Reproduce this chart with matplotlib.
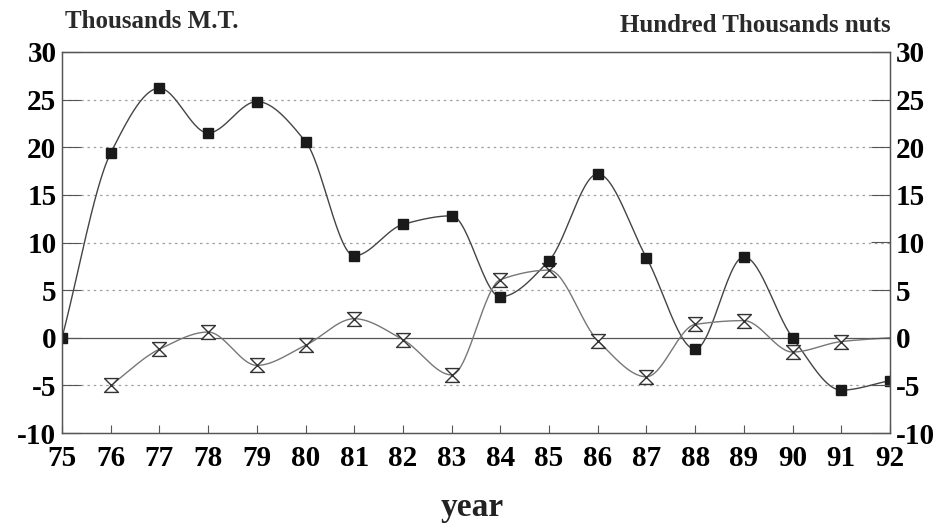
import numpy as np
import matplotlib.pyplot as plt
from matplotlib.path import Path

years = list(range(75, 93))
# thousands M.T. (filled squares)
mt = [0, 19.4, 26.2, 21.5, 24.8, 20.6, 8.6, 11.9, 12.8, 4.3, 8.1, 17.2, 8.4, -1.2, 8.5, 0, -5.5, -4.5]
# hundred thousands nuts (hourglass), 76..92
nut_years = list(range(76, 93))
nuts = [-5.0, -1.2, 0.6, -2.9, -0.8, 2.0, -0.2, -3.9, 6.1, 7.1, -0.3, -4.1, 1.4, 1.8, -1.5, -0.4, 0.0]

yticks = [-10, -5, 0, 5, 10, 15, 20, 25, 30]


def smooth(x, y, n=30):
    # monotone cubic (Fritsch-Carlson) through the points
    x = np.asarray(x, float)
    y = np.asarray(y, float)
    h = np.diff(x)
    d = np.diff(y) / h
    m = np.zeros(len(x))
    m[0] = d[0]
    m[-1] = d[-1]
    for i in range(1, len(x) - 1):
        if d[i - 1] * d[i] > 0:
            w1 = 2 * h[i] + h[i - 1]
            w2 = h[i] + 2 * h[i - 1]
            m[i] = (w1 + w2) / (w1 / d[i - 1] + w2 / d[i])
    xs, ys = [], []
    for i in range(len(x) - 1):
        t = np.linspace(0, 1, n, endpoint=False)
        h00 = 2 * t ** 3 - 3 * t ** 2 + 1
        h10 = t ** 3 - 2 * t ** 2 + t
        h01 = -2 * t ** 3 + 3 * t ** 2
        h11 = t ** 3 - t ** 2
        xs.append(x[i] + t * h[i])
        ys.append(h00 * y[i] + h10 * h[i] * m[i] + h01 * y[i + 1] + h11 * h[i] * m[i + 1])
    xs.append([x[-1]])
    ys.append([y[-1]])
    return np.concatenate(xs), np.concatenate(ys)


hourglass = Path([(-1, 1), (1, 1), (-1, -1), (1, -1), (-1, 1)],
                 [Path.MOVETO, Path.LINETO, Path.LINETO, Path.LINETO, Path.CLOSEPOLY])

plt.rcParams['font.family'] = 'Liberation Serif'
plt.rcParams['font.weight'] = 'bold'

fig = plt.figure(figsize=(9.39, 5.24), dpi=100)
ax = fig.add_axes([62 / 939, 1 - 433 / 524, 828 / 939, 381 / 524])

for v in [-5, 5, 10, 15, 20, 25]:
    ax.axhline(v, color='#a0a0a0', lw=0.9, ls=(0, (2, 3)), zorder=0)
ax.axhline(0, color='#555555', lw=0.9, zorder=1)

sx, sy = smooth(years, mt)
ax.plot(sx, sy, color='#444444', lw=1.0, zorder=2)
ax.plot(years, mt, ls='none', marker='s', ms=7, color='#1a1a1a', zorder=4)

nx, ny = smooth(nut_years, nuts)
ax.plot(nx, ny, color='#777777', lw=1.0, zorder=2)
ax.plot(nut_years[:-1], nuts[:-1], ls='none', marker=hourglass, ms=10,
        mfc='white', mec='#333333', mew=1.0, zorder=3)

ax.set_xlim(75, 92)
ax.set_ylim(-10, 30)
ax.set_xticks(years)
ax.set_xticklabels([str(y) for y in years], fontsize=21)
ax.set_yticks(yticks)
ax.set_yticklabels([str(v) for v in yticks], fontsize=21)
ax.tick_params(axis='both', direction='in', length=6, width=0.8, color='#555555')
ax.tick_params(axis='x', pad=9)
ax.tick_params(axis='y', length=14, pad=4)

ax2 = ax.twinx()
ax2.set_ylim(-10, 30)
ax2.set_yticks(yticks)
ax2.set_yticklabels([str(v) for v in yticks], fontsize=21)
ax2.tick_params(axis='y', direction='in', length=14, width=0.8, color='#555555', pad=4)

for a in (ax, ax2):
    for s in a.spines.values():
        s.set_color('#555555')
        s.set_linewidth(0.9)

fig.text(65 / 939, 1 - 22 / 524, 'Thousands M.T.', fontsize=18, ha='left', va='center', color='#2a2a2a')
fig.text(891 / 939, 1 - 25 / 524, 'Hundred Thousands nuts', fontsize=18, ha='right', va='center', color='#2a2a2a')
fig.text(472 / 939, 1 - 516 / 524, 'year', fontsize=24, ha='center', va='baseline', color='#222222')

fig.savefig('out.png', dpi=100)
